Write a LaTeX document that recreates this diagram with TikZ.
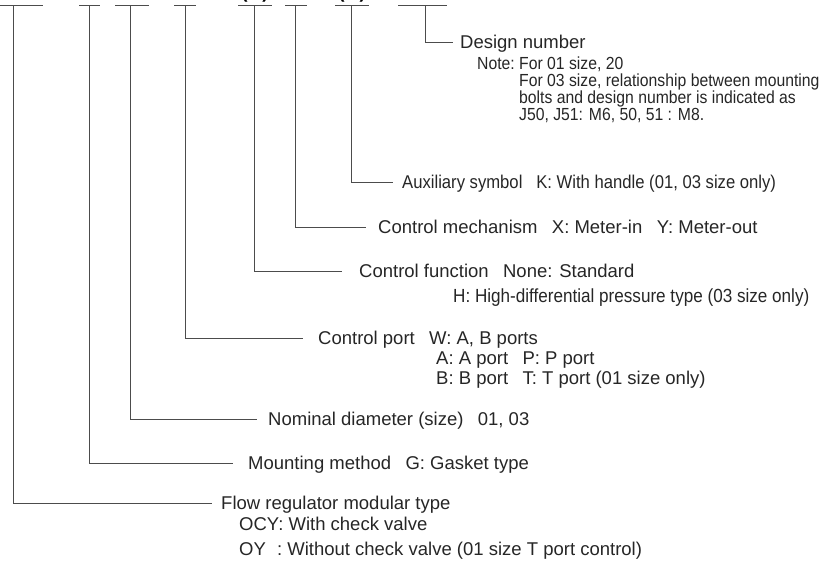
\documentclass[tikz,border=0pt]{standalone}
\usepackage{fontspec}
\setmainfont{Liberation Sans}
\newfontfamily\narrowfont[FakeStretch=0.9]{Liberation Sans}
\usetikzlibrary{positioning}

\tikzset{
  lead/.style={draw=black!70, line width=0.9pt},
  lbl/.style={inner sep=0pt, anchor=west, text=black!85, text height=13pt, text depth=0pt,
    font=\fontsize{18.5}{22}\selectfont},
  auxlbl/.style={lbl, font=\narrowfont\fontsize{18.5}{22}\selectfont},
  notelbl/.style={lbl, text height=12pt, font=\narrowfont\fontsize{17.5}{20}\selectfont},
  paren/.style={inner sep=0pt, anchor=south, font=\bfseries\fontsize{18}{20}\selectfont},
}

\begin{document}
\begin{tikzpicture}[x=1pt, y=-1pt]
\useasboundingbox (0,0) rectangle (826,566);

% code segments
\foreach \l/\r in {0/43, 79/100, 115/149, 174/196, 238/272, 285/307, 335/369, 398/447}
  \draw[lead] (\l,5) -- (\r,5);
\node[paren] (k1) at (255,2) {(\hspace{15pt})};
\node[paren] (k2) at (352,2) {(\hspace{15pt})};

% drop points
\coordinate (p1) at (13,5);
\coordinate (p2) at (89,5);
\coordinate (p3) at (130,5);
\coordinate (p4) at (185,5);
\coordinate (p5) at (254,5);
\coordinate (p6) at (295,5);
\coordinate (p7) at (351,5);
\coordinate (p8) at (425,5);

% leader ends
\coordinate (e1) at (212,503);
\coordinate (e2) at (233,463);
\coordinate (e3) at (257,419);
\coordinate (e4) at (303,338);
\coordinate (e5) at (342,271);
\coordinate (e6) at (366,227);
\coordinate (e7) at (393,182);
\coordinate (e8) at (453,42);

% labels
\node[lbl, right=9pt of e1] (t1) {Flow regulator modular type};
\node[lbl] (t1a) at (239,524) {OCY: With check valve};
\node[lbl] (t1b) at (239,549) {OY\hspace{0.6em}: Without check valve (01 size T port control)};
\node[lbl, right=15pt of e2] (t2) {Mounting method\hspace{0.5em} G: Gasket type};
\node[lbl, right=11pt of e3] (t3) {Nominal diameter (size)\hspace{0.5em} 01, 03};
\node[lbl, right=15pt of e4] (t4) {Control port\hspace{0.5em} W: A, B ports};
\node[lbl] (t4a) at (436,358) {A: A port\hspace{0.5em} P: P port};
\node[lbl] (t4b) at (436,378) {B: B port\hspace{0.5em} T: T port (01 size only)};
\node[lbl, right=17pt of e5] (t5) {Control function\hspace{0.5em} None: Standard};
\node[notelbl, font=\narrowfont\fontsize{19}{21}\selectfont] (t5a) at (453,296) {H: High-differential pressure type (03 size only)};
\node[lbl, right=12pt of e6] (t6) {Control mechanism\hspace{0.5em} X: Meter-in\hspace{0.5em} Y: Meter-out};
\node[auxlbl, right=9pt of e7] (t7) {Auxiliary symbol\hspace{0.5em} K: With handle (01, 03 size only)};
\node[lbl, right=7pt of e8] (t8) {Design number};
\node[notelbl] (t8a) at (477,63) {Note:};
\node[notelbl] (t8e) at (519,63) {For 01 size, 20};
\node[notelbl] (t8b) at (519,80) {For 03 size, relationship between mounting};
\node[notelbl] (t8c) at (519,97) {bolts and design number is indicated as};
\node[notelbl] (t8d) at (519,114) {J50, J51: M6, 50, 51 : M8.};

% leaders
\draw[lead] (p1) |- (e1);
\draw[lead] (p2) |- (e2);
\draw[lead] (p3) |- (e3);
\draw[lead] (p4) |- (e4);
\draw[lead] (p5) |- (e5);
\draw[lead] (p6) |- (e6);
\draw[lead] (p7) |- (e7);
\draw[lead] (p8) |- (e8);
\end{tikzpicture}
\end{document}
